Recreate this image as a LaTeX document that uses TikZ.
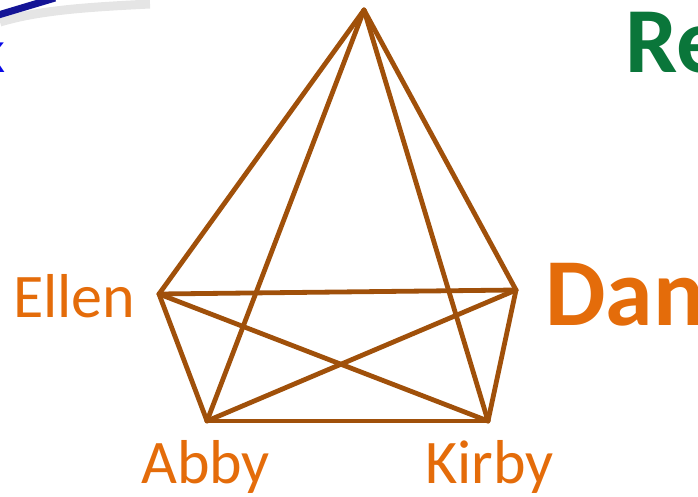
\documentclass[tikz,border=0pt]{standalone}
\usepackage{fontspec}
\setmainfont{Carlito}
\usepackage{tikz}
\usetikzlibrary{positioning,calc}
\definecolor{edgebrown}{RGB}{160,80,10}
\definecolor{nameorange}{RGB}{228,108,10}
\definecolor{titlegreen}{RGB}{10,118,58}
\definecolor{titleblue}{RGB}{10,10,230}
\definecolor{barblue}{RGB}{20,20,150}

\begin{document}
\begin{tikzpicture}[
  x=1pt, y=-1pt,
  personlbl/.style={text=nameorange, inner sep=0pt, anchor=base west, font=\fontsize{62}{66}\selectfont},
  biglbl/.style={personlbl, font=\fontsize{96}{100}\selectfont\bfseries},
  link/.style={draw=edgebrown, line width=4.8pt, line cap=round, line join=round}
]
\useasboundingbox (0,0) rectangle (698,496);

% slide remains
\draw[gray!20, line width=9pt] (0,22) .. controls (40,10) and (90,7) .. (150,4);
\draw[barblue, line width=7pt] (-5,16) .. controls (15,10) and (35,4) .. (55,-2);
\node[text=titleblue, inner sep=0pt, anchor=base east, font=\fontsize{62}{66}\selectfont] (kk) at (6,72) {k};
\node[text=titlegreen, inner sep=0pt, anchor=base west, font=\fontsize{93}{96}\selectfont\bfseries] (re) at (625,72) {Re};

% vertices
\coordinate (top)   at (364,10);
\coordinate (ellen) at (159,294);
\coordinate (dan)   at (516,290);
\coordinate (abby)  at (207,421);
\coordinate (kirby) at (488,421);

% labels
\node[personlbl] (lEllen) at (13,317)  {Ellen};
\node[personlbl] (lAbby)  at (141,483) {Abby};
\node[personlbl] (lKirby) at (425,483) {Kirby};
\node[biglbl]    (lDan)   at (545,325) {Dan};

% edges
\draw[link] (top) -- (ellen);
\draw[link] (top) -- (abby);
\draw[link] (top) -- (kirby);
\draw[link] (top) -- (dan);
\draw[link] (ellen) -- (dan);
\draw[link] (ellen) -- (abby);
\draw[link] (ellen) -- (kirby);
\draw[link] (dan) -- (abby);
\draw[link] (dan) -- (kirby);
\draw[link] (abby) -- (kirby);

\end{tikzpicture}
\end{document}
